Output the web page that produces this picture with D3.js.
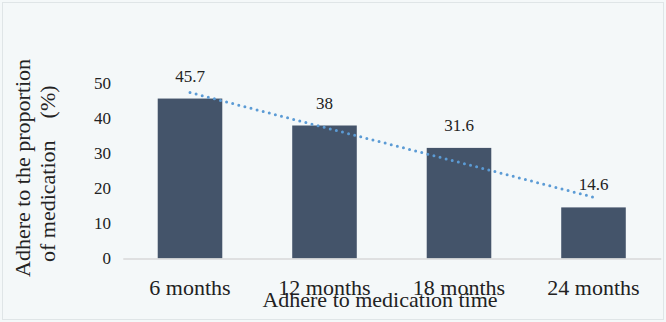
<!DOCTYPE html>
<html>
<head>
<meta charset="utf-8">
<script src="https://cdn.jsdelivr.net/npm/d3@7"></script>
<style>
  html, body { margin: 0; padding: 0; background: #f4f8f9; }
  svg { display: block; }
  svg text { font-family: "Liberation Serif", "Times New Roman", Times, serif !important; fill: #222; }
</style>
</head>
<body>
<svg id="chart" width="666" height="322" font-family="Liberation Serif"></svg>
<script>
const categories = ["6 months", "12 months", "18 months", "24 months"];
const values = [45.7, 38, 31.6, 14.6];
const valueLabels = ["45.7", "38", "31.6", "14.6"];
const yTicks = [0, 10, 20, 30, 40, 50];
const xTitle = "Adhere to medication time";
const yTitleLines = ["Adhere to the proportion", "of medication\u2003(%)"];

const FONT = "Liberation Serif, Times New Roman, serif";
const svg = d3.select("#chart");
const W = 666, H = 322;

svg.append("rect")
  .attr("x", 2.5).attr("y", 2.5).attr("width", W - 5).attr("height", H - 5)
  .attr("fill", "#f4f8f9").attr("stroke", "#dfe5e7").attr("stroke-width", 1);

const x = d3.scaleBand().domain(categories).range([122.75, 660.75])
  .paddingInner(0.52).paddingOuter(0.26);
const y = d3.scaleLinear().domain([0, 50]).range([258.5, 83.5]);

// y tick labels
const yAxis = d3.axisLeft(y).tickValues(yTicks).tickSize(0).tickPadding(0).tickFormat(d3.format("d"));
const gy = svg.append("g").attr("transform", "translate(111,0)").call(yAxis)
  .attr("font-family", FONT).attr("font-size", 17);
gy.select(".domain").remove();
gy.selectAll("text").attr("font-size", 17).attr("font-family", FONT).attr("fill", "#222").attr("x", 0);

// bars
svg.append("g").selectAll("rect").data(values).join("rect")
  .attr("x", (d, i) => x(categories[i]))
  .attr("y", d => y(d))
  .attr("width", x.bandwidth())
  .attr("height", d => y(0) - y(d))
  .attr("fill", "#44546a");

// x axis
const xAxis = d3.axisBottom(x).tickSize(0).tickPadding(0);
const gx = svg.append("g").attr("transform", `translate(0,${y(0)})`).call(xAxis)
  .attr("font-family", FONT).attr("font-size", 22);
gx.select(".domain").attr("stroke", "#d9d9d9").attr("stroke-width", 1.5);
gx.selectAll("text").attr("font-size", 22).attr("font-family", FONT)
  .attr("fill", "#222").attr("dy", 0).attr("y", 36.5);

// data labels
svg.append("g").attr("font-family", FONT).selectAll("text").data(values).join("text")
  .attr("x", (d, i) => x(categories[i]) + x.bandwidth() / 2)
  .attr("y", d => y(d) - 17)
  .attr("text-anchor", "middle")
  .attr("font-family", FONT)
  .attr("font-size", 17)
  .text((d, i) => valueLabels[i]);

// linear trendline (least squares fit of the bar values)
const n = values.length;
const idx = values.map((d, i) => i + 1);
const mx = d3.mean(idx), my = d3.mean(values);
const slope = d3.sum(idx, (xi, i) => (xi - mx) * (values[i] - my)) / d3.sum(idx, xi => (xi - mx) ** 2);
const intercept = my - slope * mx;
const cx = i => x(categories[i]) + x.bandwidth() / 2;
svg.append("line")
  .attr("x1", cx(0)).attr("y1", y(intercept + slope * 1))
  .attr("x2", cx(n - 1)).attr("y2", y(intercept + slope * n))
  .attr("stroke", "#5b9bd5").attr("stroke-width", 3)
  .attr("stroke-linecap", "round").attr("stroke-dasharray", "0 6.3");

// x title
svg.append("text").attr("x", 380).attr("y", 307).attr("text-anchor", "middle")
  .attr("font-family", FONT).attr("font-size", 22).text(xTitle);

// y title
svg.append("text").attr("transform", "translate(30,277) rotate(-90)")
  .attr("text-anchor", "start").attr("font-family", FONT).attr("font-size", 22).text(yTitleLines[0]);
svg.append("text").attr("transform", "translate(55,262) rotate(-90)")
  .attr("text-anchor", "start").attr("font-family", FONT).attr("font-size", 22).text(yTitleLines[1]);
</script>
</body>
</html>
